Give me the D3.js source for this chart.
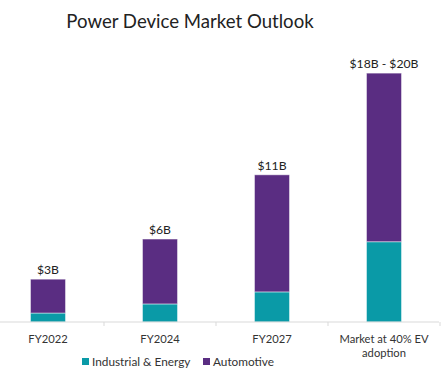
<!DOCTYPE html>
<html><head><meta charset="utf-8">
<script src="https://cdn.jsdelivr.net/npm/d3@7"></script>
<style>body{margin:0;background:#fff;}svg{display:block;font-family:Lato,"Open Sans",sans-serif;}</style>
</head><body><svg id="c" width="446" height="380"></svg>
<script>
const categories = ["FY2022", "FY2024", "FY2027", "Market at 40% EV|adoption"];
const industrial = [0.67, 1.35, 2.25, 6.0];
const automotive = [2.53, 4.85, 8.75, 12.6];
const valueLabels = ["$3B", "$6B", "$11B", "$18B - $20B"];
const seriesNames = ["Industrial & Energy", "Automotive"];
const colors = ["#0A9AA7", "#5A2D82"];

const svg = d3.select("#c");
const baseY = 322;
const x = d3.scaleBand().domain(categories).range([-8, 440]).paddingInner(0).paddingOuter(0);
const y = d3.scaleLinear().domain([0, 20]).range([baseY, baseY - 20 * 13.38]);

svg.append("text").attr("x", 190).attr("y", 28).attr("text-anchor", "middle")
  .attr("font-size", 18.6).attr("fill", "#222").text("Power Device Market Outlook");

const data = categories.map((c, i) => ({cat: c, ind: industrial[i], auto: automotive[i], label: valueLabels[i]}));
const stack = d3.stack().keys(["ind", "auto"])(data);
const bw = 35;

stack.forEach((s, si) => {
  svg.append("g").selectAll("rect").data(s).join("rect")
    .attr("x", d => x(d.data.cat) + x.bandwidth() / 2 - bw / 2)
    .attr("width", bw)
    .attr("y", d => y(d[1]))
    .attr("height", d => y(d[0]) - y(d[1]))
    .attr("fill", colors[si])
    .attr("stroke", "rgba(255,255,255,0.45)").attr("stroke-width", 1);
});

svg.append("g").selectAll("text").data(data).join("text")
  .attr("x", d => x(d.cat) + x.bandwidth() / 2)
  .attr("y", d => y(d.ind + d.auto) - 5)
  .attr("text-anchor", "middle").attr("font-size", 12.2).attr("fill", "#222")
  .text(d => d.label);

// axis
const axis = d3.axisBottom(x).tickSize(0).tickFormat("");
const ag = svg.append("g").attr("transform", `translate(0,${baseY})`).call(axis);
ag.select(".domain").remove();
ag.append("line").attr("x1", 0).attr("x2", 439).attr("stroke", "#d9d9d9");
const tickPos = categories.map(c => x(c) + x.bandwidth());
ag.selectAll(".tk").data(tickPos).join("line").attr("class", "tk")
  .attr("x1", d => d).attr("x2", d => d).attr("y1", 0).attr("y2", 4).attr("stroke", "#d9d9d9");

const lab = svg.append("g").selectAll("text").data(categories).join("text")
  .attr("x", d => x(d) + x.bandwidth() / 2)
  .attr("y", 343).attr("text-anchor", "middle").attr("font-size", 11.2).attr("fill", "#333");
lab.each(function(d) {
  const parts = d.split("|");
  parts.forEach((p, i) => d3.select(this).append("tspan")
    .attr("x", x(d) + x.bandwidth() / 2).attr("dy", i === 0 ? 0 : 14).text(p));
});

// legend
const leg = svg.append("g");
const legX = [82, 203];
seriesNames.forEach((n, i) => {
  leg.append("rect").attr("x", legX[i]).attr("y", 358).attr("width", 7).attr("height", 7).attr("fill", colors[i]);
  leg.append("text").attr("x", legX[i] + 10).attr("y", 366).attr("font-size", 11.8).attr("fill", "#333").text(n);
});
</script></body></html>
